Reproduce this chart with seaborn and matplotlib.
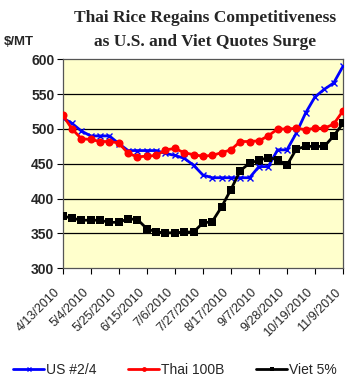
import matplotlib
matplotlib.use("Agg")
import matplotlib.pyplot as plt
from matplotlib.lines import Line2D
import seaborn as sns
import pandas as pd

# Weekly quotes, 4/13/2010 .. 11/9/2010
dates = pd.date_range("2010-04-13", periods=31, freq="7D")
date_labels = [f"{d.month}/{d.day}/{d.year}" for d in dates]

us_2_4 = [516, 508, 497, 490, 490, 490, 479, 469, 469, 469, 469, 465, 462,
          458, 448, 434, 430, 430, 430, 430, 430, 446, 446, 470, 470, 494,
          523, 546, 557, 566, 590]
thai_100b = [520, 500, 486, 485, 482, 482, 480, 465, 460, 461, 462, 470, 472,
             466, 463, 461, 462, 466, 470, 482, 482, 483, 490, 500, 500, 501,
             499, 501, 501, 507, 526]
viet_5 = [375, 372, 369, 369, 369, 366, 366, 371, 370, 357, 352, 351, 351,
          352, 352, 365, 367, 388, 413, 440, 451, 455, 459, 456, 448, 471,
          475, 475, 475, 490, 508]

series_names = ["US #2/4", "Thai 100B", "Viet 5%"]
y_ticks = [300, 350, 400, 450, 500, 550, 600]

sns.set_style("white")
plt.rcParams["font.family"] = ["Liberation Sans", "DejaVu Sans"]

W, H = 350, 382
fig = plt.figure(figsize=(W / 100, H / 100), dpi=100)
left, right, top, bottom = 62.7, 343, 59.3, 268.3
ax = fig.add_axes([left / W, 1 - bottom / H, (right - left) / W, (bottom - top) / H])
ax.set_facecolor("#FFFFCC")

df = pd.DataFrame({"week": range(len(dates)), series_names[0]: us_2_4,
                   series_names[1]: thai_100b, series_names[2]: viet_5})

styles = {
    "US #2/4": dict(color="#0000FF", marker="x", markersize=4.5, markeredgewidth=1.0),
    "Thai 100B": dict(color="#FF0000", marker="o", markersize=5.8, markeredgewidth=0),
    "Viet 5%": dict(color="#000000", marker="s", markersize=5.5, markeredgewidth=0),
}
for name in series_names:
    st = styles[name]
    sns.lineplot(data=df, x="week", y=name, ax=ax, color=st["color"],
                 marker=st["marker"], markersize=st["markersize"],
                 markeredgewidth=st["markeredgewidth"], markeredgecolor=st["color"],
                 linewidth=2.0, zorder=3)

ax.set_xlim(0, len(dates) - 1)
ax.set_ylim(300, 600)
ax.set_yticks(y_ticks)
ax.set_yticklabels([str(v) for v in y_ticks], fontsize=10, fontweight="bold")
for v in y_ticks[1:-1]:
    ax.axhline(v, color="black", linewidth=0.9, zorder=1)

xt = list(range(0, len(dates), 3))
ax.set_xticks(xt)
ax.set_xticklabels([date_labels[i] for i in xt], rotation=45, ha="right",
                   va="top", fontsize=9)
ax.set_xlabel("")
ax.set_ylabel("")
ax.tick_params(axis="both", direction="out", length=4, width=0.8, color="black",
               bottom=True, left=True, pad=2)
ax.tick_params(axis="x", pad=9)
for s in ax.spines.values():
    s.set_color("#555555")
    s.set_linewidth(0.9)

fig.text(205 / W, 1 - 22 / H, "Thai Rice Regains Competitiveness", ha="center",
         va="baseline", fontsize=12.5, fontweight="bold", family="Liberation Serif")
fig.text(205 / W, 1 - 46 / H, "as U.S. and Viet Quotes Surge", ha="center",
         va="baseline", fontsize=12.5, fontweight="bold", family="Liberation Serif")
fig.text(4 / W, 1 - 45 / H, "$/MT", ha="left", va="baseline", fontsize=9.5,
         fontweight="bold")

handles = [Line2D([], [], color=styles[n]["color"], marker=styles[n]["marker"],
                  markersize=3.5, markeredgewidth=styles[n]["markeredgewidth"],
                  markeredgecolor=styles[n]["color"], linewidth=2.0)
           for n in series_names]
fig.legend(handles, series_names, loc="center", bbox_to_anchor=(175 / W, 1 - 370 / H),
           ncol=3, frameon=False, fontsize=10, handlelength=2.2, handletextpad=0.15,
           columnspacing=2.3, borderpad=0, borderaxespad=0)

fig.savefig("out.png", dpi=100)
